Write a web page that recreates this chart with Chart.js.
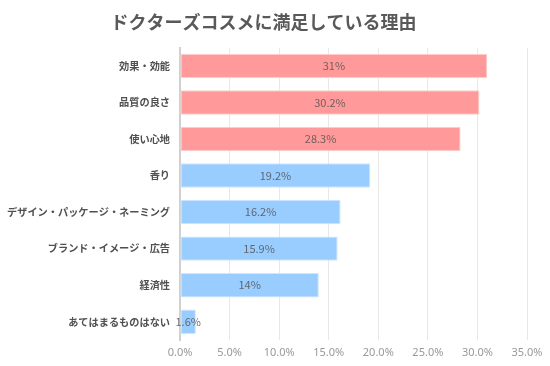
<!DOCTYPE html>
<html>
<head>
<meta charset="utf-8">
<script src="https://cdn.jsdelivr.net/npm/chart.js@4"></script>
<style>
  html, body { margin: 0; padding: 0; background: #fff; }
  #wrap { width: 550px; height: 366px; }
</style>
</head>
<body>
<div id="wrap"><canvas id="chart"></canvas></div>
<script>
const categories = [
    '効果・効能',
    '品質の良さ',
    '使い心地',
    '香り',
    'デザイン・パッケージ・ネーミング',
    'ブランド・イメージ・広告',
    '経済性',
    'あてはまるものはない'
];
const values = [31, 30.2, 28.3, 19.2, 16.2, 15.9, 14, 1.6];
const xTicks = [0, 5, 10, 15, 20, 25, 30, 35];

const PINK = '#ff999a';
const PINK_EDGE = '#ffcfcf';
const BLUE = '#99ccff';
const BLUE_EDGE = '#cfe6ff';
const JP_FONT = '"Noto Sans CJK JP", "Noto Sans", sans-serif';

// draws the value in the middle of each bar
const valueLabels = {
    id: 'valueLabels',
    afterDatasetsDraw(chart) {
        const ctx = chart.ctx;
        const meta = chart.getDatasetMeta(0);
        ctx.save();
        ctx.font = '11px ' + JP_FONT;
        ctx.fillStyle = 'rgba(85, 85, 85, 0.85)';
        ctx.textAlign = 'center';
        ctx.textBaseline = 'middle';
        meta.data.forEach((bar, i) => {
            const props = bar.getProps(['x', 'y', 'base'], true);
            ctx.fillText(values[i] + '%', (props.x + props.base) / 2, props.y);
        });
        ctx.restore();
    }
};

const ctx = document.getElementById('chart').getContext('2d');
new Chart(ctx, {
    type: 'bar',
    data: {
        labels: categories,
        datasets: [{
            data: values,
            backgroundColor: values.map((v, i) => i < 3 ? PINK : BLUE),
            borderColor: values.map((v, i) => i < 3 ? PINK_EDGE : BLUE_EDGE),
            borderWidth: 1,
            borderSkipped: false,
            barPercentage: 0.67,
            categoryPercentage: 1
        }]
    },
    plugins: [valueLabels],
    options: {
        indexAxis: 'y',
        responsive: true,
        maintainAspectRatio: false,
        animation: false,
        layout: {
            padding: { left: 0, right: 23, top: 0, bottom: 0 }
        },
        plugins: {
            legend: { display: false },
            tooltip: { enabled: false },
            title: {
                display: true,
                text: 'ドクターズコスメに満足している理由',
                color: '#595959',
                font: { family: JP_FONT, size: 18, weight: 'bold' },
                padding: { top: 11, bottom: 15 }
            }
        },
        scales: {
            x: {
                min: 0,
                max: 35,
                afterBuildTicks: scale => {
                    scale.ticks = xTicks.map(v => ({ value: v }));
                },
                afterFit: scale => { scale.height = 26; },
                grid: {
                    color: '#e8e8e8',
                    lineWidth: 1,
                    drawTicks: false
                },
                border: { display: false },
                ticks: {
                    color: '#999999',
                    padding: 6,
                    font: { family: '"Noto Sans", sans-serif', size: 11 },
                    callback: v => v.toFixed(1) + '%'
                }
            },
            y: {
                afterFit: scale => { scale.width = 180; },
                grid: { display: false, drawTicks: false },
                border: { display: true, color: '#d0d0d0', width: 2 },
                ticks: {
                    color: '#505050',
                    padding: 10,
                    font: { family: JP_FONT, size: 10.2, weight: 'bold' }
                }
            }
        }
    }
});
</script>
</body>
</html>
